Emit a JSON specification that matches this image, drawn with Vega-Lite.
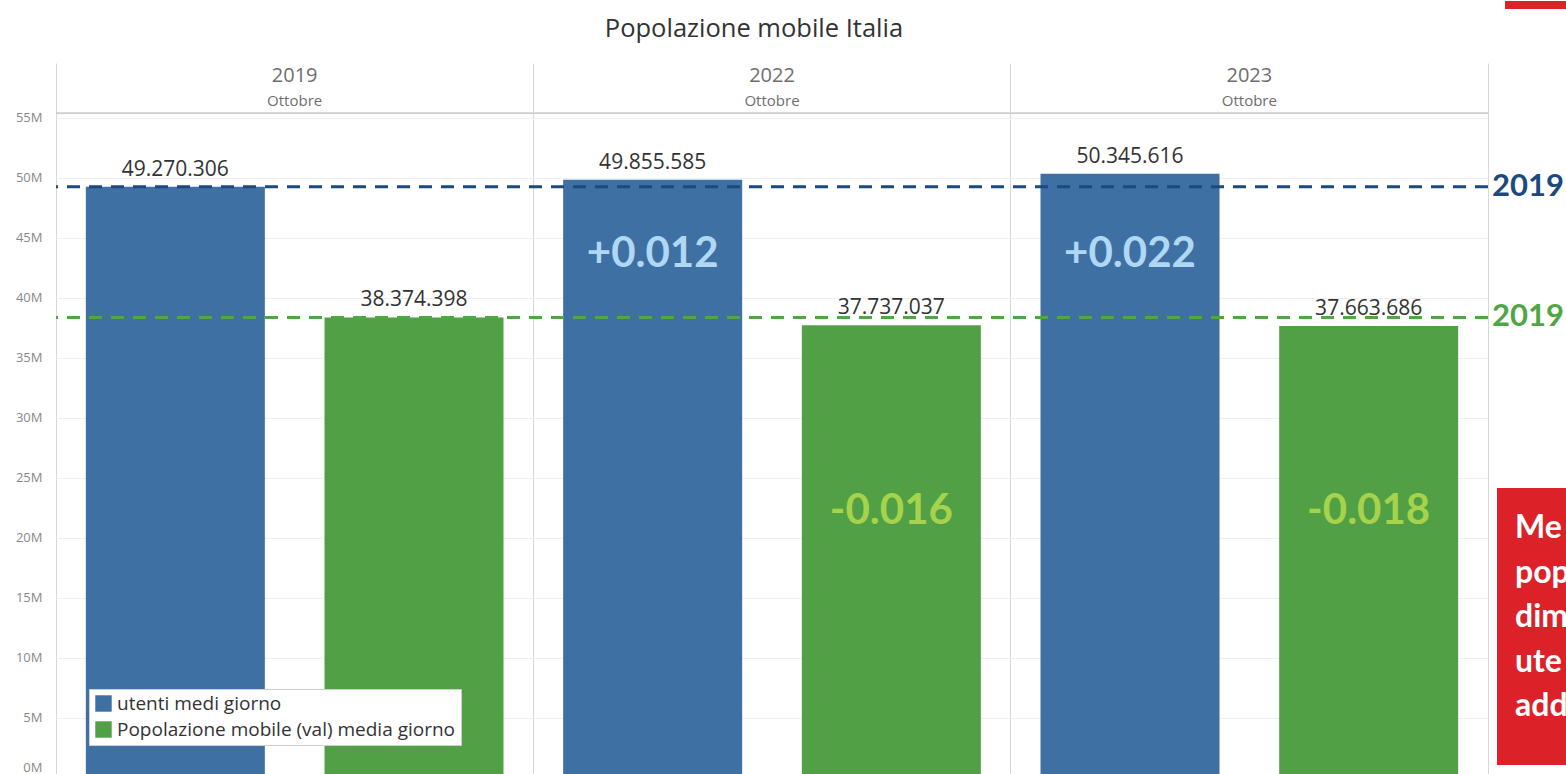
{
  "$schema": "https://vega.github.io/schema/vega-lite/v6.json",
  "autosize": {"type": "pad"},
  "padding": {"left": 15, "top": 0, "right": 0, "bottom": 0},
  "background": "white",
  "config": {
    "font": "Open Sans",
    "view": {"stroke": null},
    "locale": {"number": {"decimal": ",", "thousands": ".", "grouping": [3], "currency": ["€", ""]}}
  },
  "datasets": {
    "bars": [
      {"year": "2019", "series": "utenti medi giorno", "value": 49270306},
      {"year": "2019", "series": "Popolazione mobile (val) media giorno", "value": 38374398},
      {"year": "2022", "series": "utenti medi giorno", "value": 49855585},
      {"year": "2022", "series": "Popolazione mobile (val) media giorno", "value": 37737037},
      {"year": "2023", "series": "utenti medi giorno", "value": 50345616},
      {"year": "2023", "series": "Popolazione mobile (val) media giorno", "value": 37663686}
    ],
    "headers": [
      {"year": "2019", "month": "Ottobre"},
      {"year": "2022", "month": "Ottobre"},
      {"year": "2023", "month": "Ottobre"}
    ],
    "ann": [
      {"year": "2022", "series": "utenti medi giorno", "label": "+0.012"},
      {"year": "2023", "series": "utenti medi giorno", "label": "+0.022"},
      {"year": "2022", "series": "Popolazione mobile (val) media giorno", "label": "-0.016"},
      {"year": "2023", "series": "Popolazione mobile (val) media giorno", "label": "-0.018"}
    ]
  },
  "bounds": "flush",
  "spacing": 9,
  "resolve": {"scale": {"y": "shared"}},
  "hconcat": [
    {
      "width": 1432,
      "height": 715,
      "title": {"text": "Popolazione mobile Italia", "fontSize": 25.5, "font": "Open Sans", "fontWeight": "normal", "color": "#333333", "anchor": "middle", "frame": "group", "dx": -18, "baseline": "bottom", "offset": -4},
      "layer": [
        {
          "data": {"name": "bars"},
          "mark": {"type": "bar"},
          "encoding": {
            "x": {"field": "year", "type": "nominal", "scale": {"paddingInner": 0, "paddingOuter": 0},
                  "axis": {"orient": "bottom", "labels": false, "ticks": false, "domain": false, "grid": true, "gridColor": "#d9d9d9", "bandPosition": 0, "title": null}},
            "xOffset": {"field": "series", "type": "nominal", "scale": {"domain": ["utenti medi giorno", "Popolazione mobile (val) media giorno"], "paddingInner": 0.25, "paddingOuter": 0.125}},
            "y": {"field": "value", "type": "quantitative", "scale": {"domain": [0, 59580000], "nice": false},
                  "axis": {"values": [0, 5000000, 10000000, 15000000, 20000000, 25000000, 30000000, 35000000, 40000000, 45000000, 50000000, 55000000],
                           "labelExpr": "format(datum.value/1000000, 'd') + 'M'", "labelColor": "#888888", "labelFontSize": 13, "labelFont": "Open Sans",
                           "labelFlush": true, "labelFlushOffset": -4,
                           "ticks": false, "domain": false, "grid": true, "gridColor": "#efefef", "labelPadding": 14, "title": null}},
            "color": {"field": "series", "type": "nominal",
                      "scale": {"domain": ["utenti medi giorno", "Popolazione mobile (val) media giorno"], "range": ["#3e70a4", "#52a046"]},
                      "legend": {"orient": "bottom-left", "offset": 33, "title": null, "fillColor": "white", "strokeColor": "#cfcfcf", "padding": 5,
                                 "symbolType": "square", "symbolSize": 270, "symbolStrokeWidth": 0, "symbolOpacity": 1, "labelFontSize": 19, "labelFont": "Open Sans",
                                 "labelColor": "#333333", "rowPadding": 6, "labelLimit": 500}}
          }
        },
        {
          "data": {"name": "bars"},
          "mark": {"type": "text", "dy": -17, "fontSize": 21, "font": "Open Sans", "color": "#333333"},
          "encoding": {
            "x": {"field": "year", "type": "nominal"},
            "xOffset": {"field": "series", "type": "nominal"},
            "y": {"field": "value", "type": "quantitative"},
            "text": {"field": "value", "type": "quantitative", "format": ",d"}
          }
        },
        {
          "data": {"name": "bars"},
          "transform": [{"filter": "datum.year == '2019'"}],
          "mark": {"type": "rule", "strokeDash": [13, 9], "strokeWidth": 3},
          "encoding": {
            "y": {"field": "value", "type": "quantitative"},
            "stroke": {"field": "series", "type": "nominal", "scale": {"domain": ["utenti medi giorno", "Popolazione mobile (val) media giorno"], "range": ["#1b4a80", "#4ea744"]}, "legend": null}
          }
        },
        {
          "data": {"name": "bars"},
          "transform": [{"filter": "datum.year == '2019'"}],
          "mark": {"type": "text", "align": "left", "dx": 4, "fontSize": 31, "font": "Lato", "fontWeight": "bold"},
          "encoding": {
            "x": {"datum": "2023", "type": "nominal", "bandPosition": 1},
            "y": {"field": "value", "type": "quantitative"},
            "text": {"field": "year", "type": "nominal"},
            "fill": {"field": "series", "type": "nominal", "scale": {"domain": ["utenti medi giorno", "Popolazione mobile (val) media giorno"], "range": ["#1b4a80", "#4ea744"]}, "legend": null}
          }
        },
        {
          "data": {"name": "ann"},
          "transform": [{"filter": "datum.series == 'utenti medi giorno'"}],
          "mark": {"type": "text", "fontSize": 42, "font": "Lato", "fontWeight": "bold", "color": "#b0d7f4"},
          "encoding": {
            "x": {"field": "year", "type": "nominal"},
            "xOffset": {"field": "series", "type": "nominal"},
            "y": {"datum": 43670000, "type": "quantitative"},
            "text": {"field": "label", "type": "nominal"}
          }
        },
        {
          "data": {"name": "ann"},
          "transform": [{"filter": "datum.series != 'utenti medi giorno'"}],
          "mark": {"type": "text", "fontSize": 42, "font": "Lato", "fontWeight": "bold", "color": "#a6d34b"},
          "encoding": {
            "x": {"field": "year", "type": "nominal"},
            "xOffset": {"field": "series", "type": "nominal"},
            "y": {"datum": 22250000, "type": "quantitative"},
            "text": {"field": "label", "type": "nominal"}
          }
        },
        {
          "data": {"name": "headers"},
          "mark": {"type": "rule", "color": "#cccccc", "strokeWidth": 1},
          "encoding": {"y": {"datum": 55400000, "type": "quantitative"}}
        },
        {
          "data": {"name": "headers"},
          "mark": {"type": "text", "fontSize": 20, "font": "Open Sans", "color": "#6e6e6e"},
          "encoding": {
            "x": {"field": "year", "type": "nominal"},
            "y": {"datum": 58500000, "type": "quantitative"},
            "text": {"field": "year", "type": "nominal"}
          }
        },
        {
          "data": {"name": "headers"},
          "mark": {"type": "text", "fontSize": 15, "font": "Open Sans", "color": "#6e6e6e"},
          "encoding": {
            "x": {"field": "year", "type": "nominal"},
            "y": {"datum": 56420000, "type": "quantitative"},
            "text": {"field": "month", "type": "nominal"}
          }
        }
      ]
    },
    {
      "width": 80,
      "height": 715,
      "data": {"values": [{"box": "nota"}]},
      "layer": [
        {
          "mark": {"type": "rect", "color": "#dc2128"},
          "encoding": {
            "x": {"datum": 0, "type": "quantitative", "scale": {"domain": [0, 1], "nice": false, "zero": false}, "axis": null},
            "x2": {"datum": 1},
            "y": {"datum": 24170000, "type": "quantitative", "scale": {"domain": [0, 59580000], "nice": false},
                  "axis": {"orient": "left", "offset": 9, "domain": true, "domainColor": "#d9d9d9", "labels": false, "ticks": false, "grid": false, "title": null}},
            "y2": {"datum": 1080000}
          }
        },
        {
          "mark": {"type": "rect", "color": "#dc2128"},
          "encoding": {
            "x": {"datum": 0.1, "type": "quantitative"},
            "x2": {"datum": 1},
            "y": {"datum": 64750000, "type": "quantitative"},
            "y2": {"datum": 64080000}
          }
        },
        {
          "mark": {"type": "text", "align": "left", "baseline": "middle", "dx": 18, "fontSize": 32, "font": "Lato", "fontWeight": "bold", "color": "white", "lineHeight": 44.5},
          "encoding": {
            "x": {"datum": 0, "type": "quantitative"},
            "y": {"datum": 20830000, "type": "quantitative"},
            "text": {"value": ["Me", "pop", "dim", "ute", "add"]}
          }
        }
      ]
    }
  ]
}
